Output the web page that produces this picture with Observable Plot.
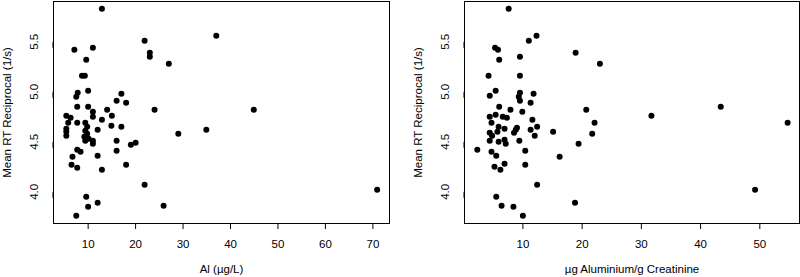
<!DOCTYPE html>
<html><head><meta charset="utf-8">
<script src="https://cdn.jsdelivr.net/npm/d3@7"></script>
<script src="https://cdn.jsdelivr.net/npm/@observablehq/plot@0.6"></script>
<style>
body{margin:0;background:#fff;}
#wrap{display:flex;width:800px;height:277px;}
#wrap svg{display:block;}
</style></head><body><div id="wrap"></div>
<script>
// Left panel: Al (µg/L) vs Mean RT Reciprocal
const alLeft = [12.9,21.9,7.1,11.0,23.0,23.0,27.0,9.6,8.7,9.3,7.8,7.5,10.0,17.0,16.0,18.0,7.7,10.0,11.0,14.0,24.0,37.0,44.9,34.9,70.9,
  5.4,6.3,5.8,7.7,5.4,5.4,5.4,9.4,9.8,9.4,9.8,9.2,9.4,10.1,11.0,11.0,11.0,12.0,12.9,15.0,14.9,17.0,16.0,16.0,19.0,20.0,29.0,7.7,8.4,12.0,6.7,6.5,7.7,18.0,12.9,21.9,9.6,10.0,12.0,25.9,7.5];
const rtLeft = [5.83,5.51,5.42,5.44,5.39,5.35,5.28,5.32,5.16,5.16,4.99,4.95,5.01,4.98,4.91,4.89,4.85,4.85,4.80,4.82,4.82,5.56,4.82,4.62,4.02,
  4.76,4.74,4.69,4.69,4.63,4.60,4.56,4.69,4.65,4.61,4.58,4.55,4.51,4.53,4.75,4.51,4.48,4.62,4.72,4.76,4.66,4.65,4.51,4.41,4.47,4.49,4.58,4.42,4.40,4.36,4.35,4.27,4.24,4.27,4.22,4.07,3.95,3.85,3.89,3.86,3.76];

// Right panel: µg Aluminium/g Creatinine vs Mean RT Reciprocal
const creatRight = [7.6,11.0,12.3,5.3,5.8,18.9,9.5,23.0,6.0,4.2,9.5,5.4,4.4,9.5,9.3,9.5,11.8,11.3,6.0,7.9,9.9,20.7,43.4,31.7,22.1,21.7,54.7,49.2,
  4.4,4.7,5.4,6.6,7.3,11.6,12.4,11.3,12.0,15.1,19.4,16.2,5.9,6.9,8.8,9.0,8.5,4.4,4.8,5.7,4.4,5.9,6.9,7.1,9.4,2.3,4.7,5.5,10.4,10.4,5.2,6.2,6.9,12.4,5.5,6.4,8.4,18.8,10.0];
const rtRight = [5.83,5.51,5.56,5.44,5.42,5.39,5.35,5.28,5.32,5.16,5.16,5.01,4.96,4.99,4.95,4.91,4.98,4.89,4.85,4.82,4.80,4.82,4.85,4.76,4.69,4.58,4.69,4.02,
  4.75,4.69,4.77,4.75,4.74,4.72,4.65,4.62,4.56,4.60,4.48,4.35,4.65,4.63,4.62,4.64,4.59,4.59,4.56,4.60,4.51,4.50,4.52,4.48,4.51,4.42,4.40,4.36,4.41,4.27,4.25,4.22,4.28,4.07,3.95,3.86,3.85,3.89,3.76];

const yTicks = [4.0, 4.5, 5.0, 5.5];
const yLabel = "Mean RT Reciprocal (1/s)";
const leftXTicks = [10, 20, 30, 40, 50, 60, 70];
const rightXTicks = [10, 20, 30, 40, 50];
const leftXLabel = "Al (µg/L)";
const rightXLabel = "µg Aluminium/g Creatinine";

const yDomain = [3.683, 5.903];

function panel(xs, ys, o) {
  const data = xs.map((x, i) => ({x, y: ys[i]}));
  return Plot.plot({
    width: 400, height: 277,
    marginTop: 1, marginBottom: 54, marginLeft: o.ml, marginRight: o.mr,
    style: {fontFamily: "'Liberation Sans', Arial, sans-serif", fontSize: "11.5px", color: "#000", background: "#fff", overflow: "visible"},
    x: {domain: o.xdom},
    y: {domain: yDomain},
    marks: [
      Plot.frame({stroke: "#000", strokeWidth: 1}),
      Plot.axisX({ticks: o.xticks, tickSize: 6, tickPadding: 10, tickFormat: d3.format("d"),
        label: o.xlabel, labelAnchor: "center", labelArrow: "none", labelOffset: 49}),
      Plot.axisY({ticks: yTicks, tickSize: 6, tickPadding: 13, tickFormat: d3.format(".1f"),
        rotate: -90, textAnchor: "middle",
        label: yLabel, labelAnchor: "center", labelArrow: "none", labelOffset: 51}),
      Plot.dot(data, {x: "x", y: "y", r: 3, fill: "#000", stroke: null})
    ]
  });
}

const wrap = document.getElementById("wrap");
wrap.append(panel(alLeft, rtLeft, {ml: 53, mr: 11, xdom: [2.7, 73.5], xticks: leftXTicks, xlabel: leftXLabel}));
wrap.append(panel(creatRight, rtRight, {ml: 64, mr: 1, xdom: [0.14, 56.7], xticks: rightXTicks, xlabel: rightXLabel}));
</script></body></html>
